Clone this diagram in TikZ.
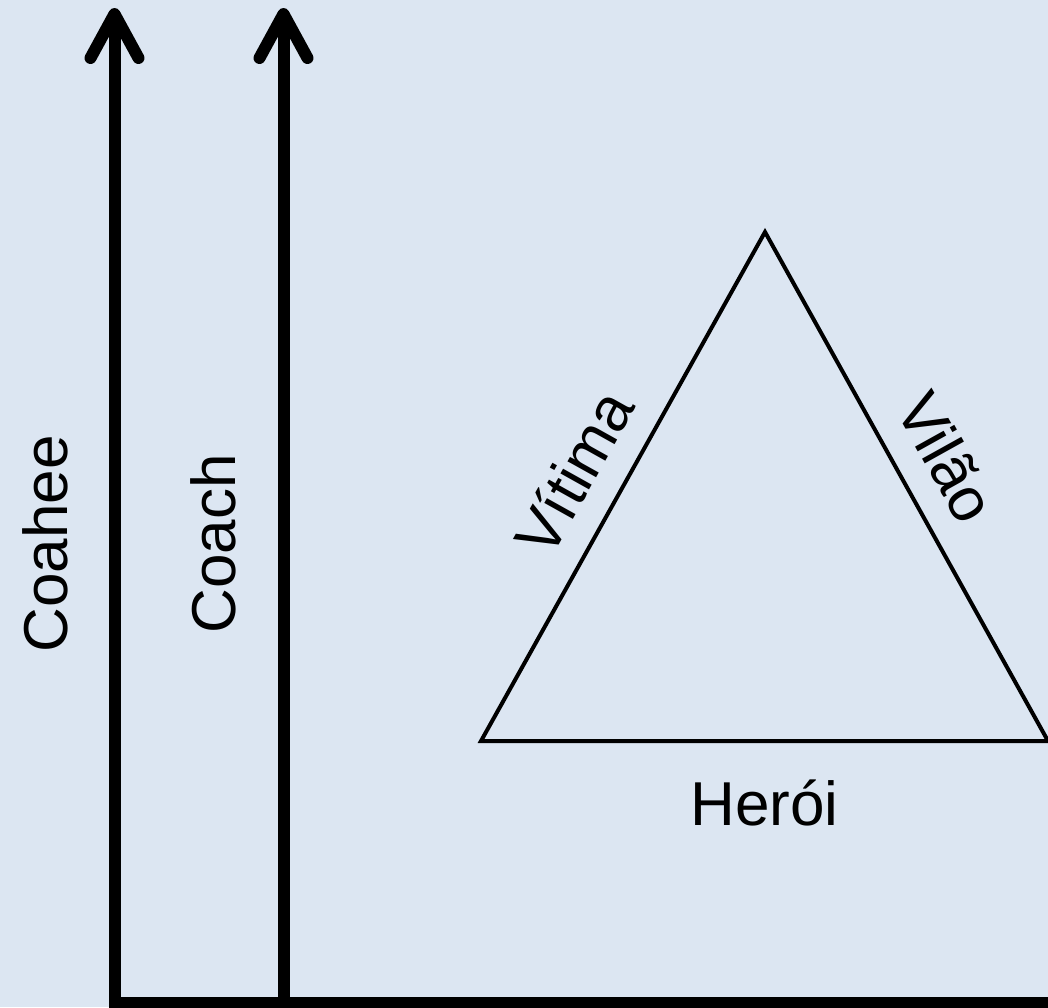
\documentclass[tikz,border=0pt]{standalone}
\usepackage{fontspec}
\setmainfont{Liberation Sans}
\usetikzlibrary{arrows.meta}
\definecolor{bgblue}{RGB}{220,230,242}

\begin{document}
\begin{tikzpicture}
[
	x=0.5pt,y=-0.5pt,
	axis/.style={line width=6pt,line join=miter,-{Straight Barb[length=22pt,width=24pt,round]}},
	edge/.style={line width=2pt,line join=miter},
	lbl/.style={font=\fontsize{31}{36}\selectfont}
]

	\fill[bgblue] (0,0) rectangle (1048,1007);
	\useasboundingbox (0,0) rectangle (1048,1007);

	% axes
	\coordinate (origin) at (114.5,1003);
	\coordinate (xend) at (1060,1003);
	\coordinate (coachfoot) at (283.5,1003);
	\coordinate (coaheetop) at (114.5,8);
	\coordinate (coachtop) at (283.5,8);
	\draw[axis] (xend) -- (origin) -- (coaheetop);
	\draw[axis] (coachfoot) -- (coachtop);

	\node[lbl,rotate=90] (coahee) at (45,544) {Coahee};
	\node[lbl,rotate=90] (coach) at (213,544) {Coach};

	% triangle
	\coordinate (apex) at (765,232);
	\coordinate (left) at (481,741);
	\coordinate (right) at (1048,741);
	\draw[edge] (left) -- node[lbl,sloped,above=9pt,pos=0.48] (vitima) {Vítima}
		(apex) -- node[lbl,sloped,above=9pt,pos=0.49] (vilao) {Vilão}
		(right) -- node[lbl,below=15pt,pos=0.5] (heroi) {Herói} cycle;

\end{tikzpicture}
\end{document}
